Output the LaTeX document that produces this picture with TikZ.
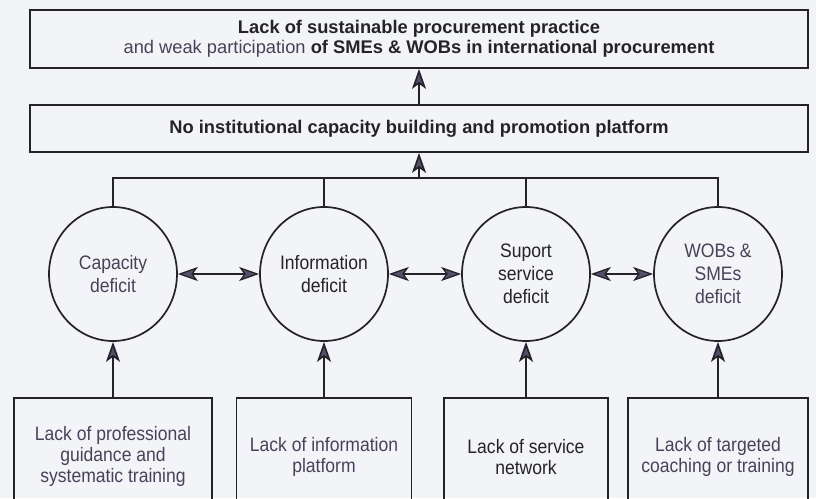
\documentclass[tikz,border=0pt]{standalone}
\usepackage{fontspec}
\setmainfont{Liberation Sans}
\newfontfamily\narrowsf{Liberation Sans}[FakeStretch=0.9]
\usetikzlibrary{shapes.geometric,arrows.meta}

\definecolor{paper}{HTML}{F3F4F7}
\definecolor{ink}{HTML}{24232A}
\definecolor{inkviolet}{HTML}{4A4158}
\definecolor{tipfill}{HTML}{55506A}

\begin{document}
\begin{tikzpicture}[x=1pt, y=-1pt, line width=1.7pt,
        >={Stealth[length=20pt, width=14pt, inset=5pt, fill=tipfill]},
        every node/.style={draw=ink, text=ink, line width=1.7pt},
        wide/.style={rectangle, minimum width=778pt, align=center,
            font=\bfseries\fontsize{18.3}{19.5}\selectfont},
        deficit/.style={ellipse, minimum width=128pt, minimum height=134pt,
            inner sep=0pt, align=center, font=\narrowsf\fontsize{19.5}{23}\selectfont},
        cause/.style={rectangle, minimum height=118pt, anchor=north, align=center,
            text=inkviolet, font=\narrowsf\fontsize{19.5}{21}\selectfont}]
        \path[use as bounding box, fill=paper] (0,0) rectangle (816,498);
        \clip (0,0) rectangle (816,498);

        \node[wide, minimum height=58pt] (goal) at (419,39)
            {Lack of sustainable procurement practice\\
             {\mdseries\color{inkviolet}and weak participation} of SMEs \& WOBs in international procurement};
        \node[wide, minimum height=47pt] (platform) at (419,128.5)
            {No institutional capacity building and promotion platform};

        \node[deficit, text=inkviolet] (capacity) at (113,274) {Capacity\\deficit};
        \node[deficit] (information) [right of=capacity, node distance=211pt] {Information\\deficit};
        \node[deficit] (support) [right of=information, node distance=202pt] {Suport\\service\\deficit};
        \node[deficit, text=inkviolet] (wobs) [right of=support, node distance=192pt] {WOBs \&\\SMEs\\deficit};

        \node[cause, minimum width=198pt] (guidance) at (capacity |- 0,397)
            {Lack of professional\\guidance and\\systematic training};
        \node[cause, minimum width=175pt] (infoplat) at (information |- 0,397)
            {Lack of information\\platform};
        \node[cause, minimum width=164pt, text=ink] (network) at (support |- 0,397)
            {Lack of service\\network};
        \node[cause, minimum width=180pt] (coaching) at (wobs |- 0,397)
            {Lack of targeted\\coaching or training};

        \coordinate (join) at (platform.south |- 0,178);
        \draw[->, draw=ink] (platform.north) -- (goal.south);
        \draw[->, draw=ink] (join) -- (platform.south);
        \draw[draw=ink] (capacity.north) |- (wobs.north |- join) -- (wobs.north);
        \draw[draw=ink] (information.north) -- (information.north |- join);
        \draw[draw=ink] (support.north) -- (support.north |- join);

        \path[draw=ink, <->, line width=1.3pt] (capacity) edge (information)
            (information) edge (support)
            (support) edge (wobs);

        \path[draw=ink, ->] (guidance) edge (capacity)
            (infoplat) edge (information)
            (network) edge (support)
            (coaching) edge (wobs);
    \end{tikzpicture}
\end{document}
